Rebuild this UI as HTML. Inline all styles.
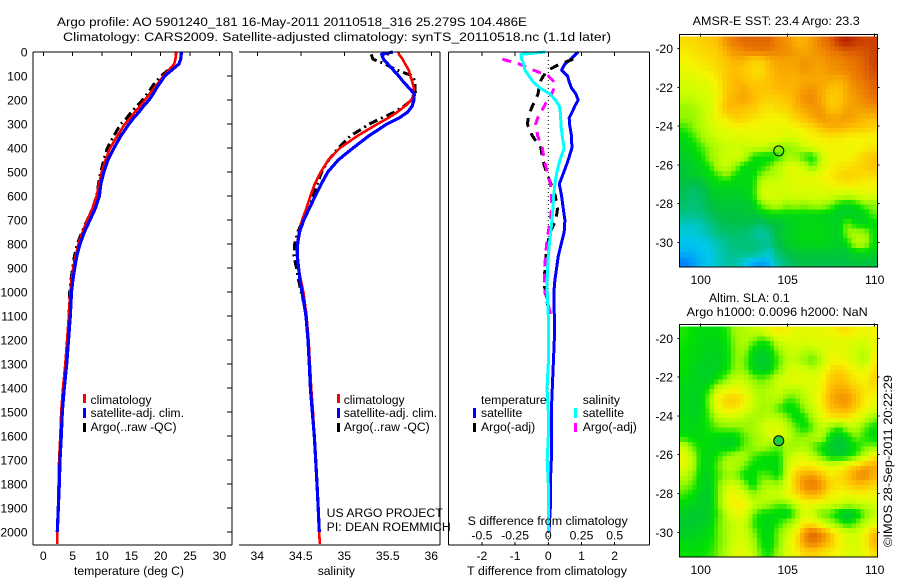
<!DOCTYPE html>
<html lang="en">
<head>
<meta charset="utf-8">
<title>Argo profile</title>
<style>
html,body{margin:0;padding:0;background:#fff;}
svg{display:block;}
text{font-family:"Liberation Sans",sans-serif;font-size:12.2px;fill:#000;}
</style>
</head>
<body>
<svg id="chart" xmlns="http://www.w3.org/2000/svg" width="900" height="580" viewBox="0 0 900 580">
<rect x="0" y="0" width="900" height="580" fill="#fff"/>
<g id="mapLayer"></g>
<g id="plotLayer"></g>
<g id="axisLayer"></g>

<text x="57" y="26" textLength="470" lengthAdjust="spacingAndGlyphs">Argo profile: AO 5901240_181 16-May-2011 20110518_316 25.279S 104.486E</text>
<text x="63" y="41" textLength="548" lengthAdjust="spacingAndGlyphs">Climatology: CARS2009. Satellite-adjusted climatology: synTS_20110518.nc (1.1d later)</text>

<g>
<rect x="83" y="394" width="3" height="9" fill="#f00"/>
<rect x="83" y="408" width="3" height="10" fill="#00f"/>
<rect x="83" y="423" width="3" height="9" fill="#000"/>
<text x="90.5" y="404">climatology</text>
<text x="90.5" y="417">satellite-adj. clim.</text>
<text x="90.5" y="431">Argo(..raw -QC)</text>
</g>
<g>
<rect x="337" y="394" width="3" height="9" fill="#f00"/>
<rect x="337" y="408" width="3" height="10" fill="#00f"/>
<rect x="337" y="423" width="3" height="9" fill="#000"/>
<text x="343.7" y="404">climatology</text>
<text x="343.7" y="417">satellite-adj. clim.</text>
<text x="343.7" y="431">Argo(..raw -QC)</text>
</g>
<g>
<text x="481" y="404">temperature</text>
<rect x="473" y="408" width="3" height="10" fill="#00f"/>
<rect x="473" y="423" width="3" height="9" fill="#000"/>
<text x="481" y="417">satellite</text>
<text x="481" y="431">Argo(-adj)</text>
<text x="582.7" y="404">salinity</text>
<rect x="574" y="408" width="3" height="10" fill="#0ff"/>
<rect x="574" y="423" width="3" height="9" fill="#f0f"/>
<text x="582.7" y="417">satellite</text>
<text x="582.7" y="431">Argo(-adj)</text>
</g>

<text x="326.7" y="517" textLength="116" lengthAdjust="spacingAndGlyphs">US ARGO PROJECT</text>
<text x="326.7" y="531" textLength="124" lengthAdjust="spacingAndGlyphs">PI: DEAN ROEMMICH</text>

<text x="74" y="575" textLength="110" lengthAdjust="spacingAndGlyphs">temperature (deg C)</text>
<text x="317.7" y="575">salinity</text>
<text x="467" y="575" textLength="160" lengthAdjust="spacingAndGlyphs">T difference from climatology</text>
<text x="467.7" y="525" textLength="160" lengthAdjust="spacingAndGlyphs">S difference from climatology</text>

<text x="692.7" y="25" textLength="167" lengthAdjust="spacingAndGlyphs">AMSR-E SST: 23.4 Argo: 23.3</text>
<text x="709" y="302">Altim. SLA: 0.1</text>
<text x="686.7" y="316" textLength="181" lengthAdjust="spacingAndGlyphs">Argo h1000: 0.0096 h2000: NaN</text>
<text transform="translate(892,547) rotate(-90)" textLength="172" lengthAdjust="spacingAndGlyphs">©IMOS 28-Sep-2011 20:22:29</text>
</svg>

<script>
// ---------- Profile data (depth in m) ----------
const depths = [0,10,30,50,75,100,125,150,175,200,225,250,275,300,350,400,450,500,550,600,650,700,750,800,850,900,950,1000,1100,1200,1300,1400,1500,1600,1700,1800,1900,2000,2050];

const tempClim = [22.6,22.6,22.5,22.3,21.4,20.45,19.7,18.9,18.1,17.3,16.5,15.6,14.8,13.9,12.6,11.4,10.6,9.95,9.5,9.1,8.4,7.5,6.7,6,5.5,5.1,4.8,4.6,4.35,4.05,3.75,3.35,3.05,2.9,2.7,2.6,2.5,2.38,2.35];
const tempSat = [23.5,23.5,23.4,23.1,21.9,20.7,20,19.3,18.7,18,17.1,16.3,15.4,14.6,13.2,12.05,11,10.3,9.8,9.55,8.9,7.95,7,6.25,5.7,5.35,5.05,4.8,4.6,4.3,3.98,3.58,3.24,3.07,2.85,2.73,2.56,2.39,null];
const tempArgo = [null,null,null,null,21.3,20.05,19.1,18.4,17.7,16.9,16,15,14.2,13.2,12,10.9,10.3,9.8,9.4,9.1,8.4,7.5,6.6,5.8,5.3,5,4.7,4.5,4.4,null,null,null,null,null,null,null,null,null,null];

const salClim = [35.62,35.63,35.67,35.7,35.74,35.76,35.78,35.8,35.8,35.77,35.7,35.61,35.505,35.38,35.15,34.95,34.816,34.73,34.66,34.61,34.565,34.515,34.48,34.458,34.455,34.475,34.5,34.53,34.565,34.59,34.605,34.62,34.64,34.655,34.675,34.69,34.7,34.71,34.72];
const salSat = [35.56,35.43,35.45,35.5,35.563,35.625,35.68,35.745,35.805,35.8,35.78,35.73,35.63,35.49,35.28,35.1,34.93,34.81,34.735,34.665,34.6,34.535,34.485,34.463,34.46,34.475,34.49,34.515,34.56,34.583,34.598,34.61,34.632,34.655,34.671,34.686,34.7,34.713,null];
const salArgo = [null,35.31,35.33,35.47,35.6,35.79,35.81,35.81,35.82,35.775,35.69,35.58,35.43,35.29,35.07,34.93,34.82,34.74,34.69,34.635,34.58,34.525,34.465,34.43,34.42,34.45,34.475,34.505,34.57,null,null,null,null,null,null,null,null,null,null];

const diffTSat = [0.9,0.82,0.68,0.5,0.4,0.58,0.63,0.7,0.83,0.9,0.8,0.72,0.63,0.64,0.7,0.71,0.6,0.47,0.33,0.4,0.45,0.5,0.48,0.39,0.3,0.25,0.2,0.17,0.18,0.18,0.15,0.12,0.09,0.09,0.09,0.06,0.06,0.02,null];
const diffTArgo = [null,null,0.75,0.35,0,-0.15,-0.25,-0.28,-0.31,-0.38,-0.48,-0.55,-0.6,-0.63,-0.48,-0.22,-0.17,-0.06,0.08,0.21,0.28,0.23,0.06,-0.02,-0.07,-0.1,-0.12,-0.1,0.05,null,null,null,null,null,null,null,null,null,null];
const diffSSat = [-0.025,-0.206,-0.2,-0.186,-0.176,-0.146,-0.113,-0.063,0.013,0.053,0.083,0.09,0.093,0.095,0.105,0.12,0.088,0.065,0.05,0.04,0.035,0.028,0.018,0.008,0,-0.005,-0.008,-0.008,0,0,0,-0.01,0,0,-0.008,0,0,0.003,null];
const diffSArgo = [null,null,-0.346,-0.22,-0.113,0,0.045,0.045,0.025,-0.005,-0.03,-0.055,-0.08,-0.095,-0.08,-0.045,-0.03,-0.008,0.015,0.025,0.025,0.015,0,-0.013,-0.02,-0.028,-0.028,-0.023,0.02,null,null,null,null,null,null,null,null,null,null];

// ---------- Tick labels ----------
const depthTicks = [0,100,200,300,400,500,600,700,800,900,1000,1100,1200,1300,1400,1500,1600,1700,1800,1900,2000];
const tempTicks = [0,5,10,15,20,25,30];
const salTicks = [34,34.5,35,35.5,36];
const diffTTicks = [-2,-1,0,1,2];
const diffSTicks = [-0.5,-0.25,0,0.25,0.5];
const lonTicks = [100,105,110];
const latTicks = [20,22,24,26,28,30];
const floatLon = 104.486;
const floatLat = 25.279;

// ---------- Heatmap levels (colour scale position, 0 blue .. 10 dark red) ----------
const sstGrid = [
[7.5,7.5,7.7,7.8,8,8.7,9,9.2,9.2,9.2,9.2,8.8,8.6,8.2,8.2,8.5,9,9.2,9.8,10,9.7,9.6,9.6],
[7.2,7.3,7.5,7.6,7.8,8.3,8.6,8.8,9,9,8.9,8.8,8.7,8.5,8.3,8.5,8.7,9,9.1,9.3,9.3,9.4,9.6],
[7,7.1,7.3,7.4,7.6,8,8.2,8.1,7.7,7.7,8.2,8.4,8.4,8.4,8.6,8.5,8.5,8.7,8.8,9,9.1,9.3,9.6],
[6.7,6.8,7,7.2,7.4,7.8,8,7.8,7.5,7.4,8,8.3,8.3,8.3,8.6,8.4,8.4,8.6,8.7,8.8,9,9.2,9.5],
[6.3,6.4,6.6,6.8,7.2,7.9,8.1,8,7.7,7.7,8,8.2,8.2,8.2,8.3,8.3,8.3,8.3,8.2,8.5,8.9,9.1,9.3],
[6,6.1,6.2,6.5,7,7.8,8.1,8.3,8,7.9,7.9,8.1,8.1,8.2,8.5,8.6,8.3,8,7.9,8.3,8.7,8.9,9.2],
[5.7,5.7,6,6.2,6.9,8,8.2,8.4,8.1,7.7,7.6,7.7,7.9,8.2,8.7,8.7,8.3,7.7,7.8,8.3,8.5,8.8,9],
[5,5.2,5.7,6.1,7.2,8.1,8,7.9,7.8,7.4,7.3,7.5,7.6,8.1,8.3,8.6,8.5,7.9,8,8.4,8.4,8.5,8.6],
[5,5,5.6,6.2,6.9,7.2,7.7,7.6,7.3,7.2,7,7,7.2,7.6,8,8.3,8.6,8.4,8.4,8.5,8.3,8.1,8],
[4.3,4.8,5.5,6,6.3,6.7,6.9,7,6.9,6.8,6.7,6.7,6.8,7,7.2,7.5,8,8.2,8.2,8,7.9,7.8,7.6],
[3.8,4.2,5,5.7,6,6.3,6.5,6.4,6.6,6.6,6.6,6.7,6.2,6.4,6.8,7,7.1,7.3,7.2,7.1,7,7,7],
[3.6,3.8,4.4,5,5.6,5.9,6,5.8,6,6,5.6,5,4.8,5.3,6,6.5,6.8,6.9,6.9,6.8,6.9,7.1,7.3],
[3.5,3.6,4,5,5.6,6,6.2,5.9,4.2,3.8,3.7,4.2,5.2,5,4.2,3.9,5.8,6.8,7,7,7.2,7.6,7.8],
[3.2,3.4,3.7,4.2,5.5,6,5,3.8,3.7,4,4.6,5.5,6.3,6.5,5.8,4.5,6.2,6.9,7.2,7.3,7.5,7.7,7.9],
[3.2,3.4,3.5,3.8,4.3,4.8,4,3.7,3.8,5,5.5,5.7,6.3,6.6,6.5,6.6,6.9,7.2,7.5,7.7,7.6,7.4,7.4],
[3,2.8,2.9,3.5,3.7,3.7,3.6,3.7,3.8,6,6.2,6,6.2,6.4,6.4,6.5,6.6,6.8,7.1,7.2,7.1,7,7],
[2.8,2.5,2.6,3.2,3.4,3.5,3.4,3.5,3.9,6,6.3,6.1,6.1,6.2,6.2,6.3,6.2,6.3,6,5.8,6.2,6.5,6.4],
[2.6,2.4,2.5,3,3.2,3.3,3.2,3.3,3.4,4.8,5.4,5.6,5,5.3,5,5.3,5.4,4.8,3.9,3.6,3.9,4.8,5],
[2.2,2.2,2.3,2.7,3,3.1,3.1,3.2,3.2,3.4,3.8,3.8,3.8,3.8,3.8,3.8,3.7,3.7,3.4,3.4,3.5,3.6,4.6],
[1.5,1.4,1.6,2.2,2.7,2.9,2.9,3,2.8,2.6,3,3.2,3.4,3.6,3.7,3.7,3.7,3.6,3.5,4.8,3.8,3.7,3.8],
[1.2,1.2,1.4,1.8,2.3,2.5,2.6,2.5,2.1,1.7,2.2,3.2,3.5,3.7,3.8,3.8,3.8,3.7,3.5,5,5.4,5.2,4],
[0.9,0.9,1,1.2,1.7,2.1,2.3,2.5,2.4,2.2,2.1,3,3.4,3.6,3.7,3.7,3.7,3.6,3.4,4,5.6,5.5,3.9],
[0.7,0.7,0.9,1,1.5,2,2.2,2.3,2.2,1.9,1.4,2.6,3.1,3.2,3.3,3.3,3.3,3.3,3.2,3.3,3.6,3.8,3.5],
[0,0.3,0.8,1,1.4,1.9,1.8,1.2,0.6,0.4,0.7,1.9,2.5,2.8,3,3,2.9,3,3,3.1,3.1,3.1,3.1]
];
const slaGrid = [
[4.2,4,3.8,3.8,3.8,4.2,5.2,5.5,5.8,6,6.8,7.2,7,6.6,6.5,6.6,6.7,6.8,7.3,7.4,7,6.8,7],
[4.1,3.9,3.7,3.7,3.7,4,5,5.6,4.8,4,4.4,6,6.3,6.4,6.3,6.4,6.4,6.4,6.5,6.5,6.3,6.2,6.8],
[4,3.8,3.7,3.6,3.6,3.9,4.9,5.2,3.8,3.5,3.7,5,5.8,6,5.6,5.6,6.2,6.6,6.6,6.4,6,5.6,6.8],
[4,3.8,3.6,3.5,3.5,3.8,5,4.8,3.6,3.3,3.5,4.4,5.6,5.7,5,4.4,5.6,6.8,6.9,6.7,6,5.4,7],
[4,3.7,3.5,3.5,3.6,4,5,5,3.8,3.4,3.6,4.8,6,6.4,6.2,5.8,6.4,7.4,7.6,7.3,6.8,6.6,7.4],
[3.8,3.7,3.5,3.5,4,5,5.8,5.8,5,4.6,5,6,6.4,6.6,6.5,6.4,6.9,7.7,8,7.7,7.2,7,7.6],
[3.7,3.6,3.5,4.2,6,6.6,6.9,6.5,5.6,5.2,5.6,6,5.8,5.6,6,6.4,7,8,8.3,8.2,7.7,7.2,7.3],
[3.7,3.6,3.6,5,7,7.7,7.7,7.3,6,5.4,5.6,5.6,4.5,4.6,5.6,6.4,7.2,8.2,8.6,8.6,8,7.2,6.8],
[3.7,3.5,3.6,4.8,6.8,7.4,7.3,6.7,5.8,5.3,5.3,4.4,3.8,3.9,5,6,7,7.9,8.2,8.3,7.7,7,6.5],
[3.8,3.6,3.7,4.4,5.6,6,6,5.6,5.3,5.4,5.8,5.6,4.8,3.8,4,5.4,6.6,7.2,7.3,7.2,6.8,6,5],
[3.8,3.7,3.8,4.2,4.6,4.8,4.8,5,5.3,5.9,6.4,6.5,5.7,4.6,3.9,4.6,5.8,5,4.2,5.4,5.6,4.6,3.9],
[4,3.8,3.8,3.9,3.8,3.6,3.7,4.5,5,5.6,6.2,6.4,5.8,5,5,5.4,5.6,3.8,3.3,3.8,4.8,4.2,3.8],
[6,4.6,3.9,3.8,3.7,3.5,3.7,4.6,5,5.4,5,4.6,5.2,5.2,5.4,4.6,3.9,3.5,3.1,3.4,3.9,4.6,4.8],
[6.8,5.5,3.9,3.7,4.2,5,5.4,5.3,4.6,4,4,4,5.5,6.2,6.4,5.6,4.5,3.6,3.5,3.7,4.5,5.8,7.2],
[6.6,5.6,3.8,3.7,4.6,5.6,5.5,4.8,3.9,3.9,3.8,3.8,5.8,7,7.2,7.1,6.8,6.3,6.6,7.2,7.8,8.3,8.2],
[5.8,5,3.7,3.6,4.4,5,4.9,3.9,3.8,4.6,4.4,3.8,6.2,7.8,8.4,8.5,8,7.3,7.4,7.9,8.6,8.8,8.2],
[5,4.6,3.6,3.5,4.6,6,6.2,5,3.8,5,5.4,5.2,6.6,7.8,8.8,9,8.6,7.6,7.3,7.6,8,8,7.6],
[4.4,4,3.4,3.4,4.6,6.6,6.9,6.2,5,5.6,6,6,6.8,7.4,8,8.3,8,7.2,6.9,6.9,7,7,6.9],
[3.8,3.7,3.5,3.5,4.6,6.6,7.2,7.2,6,5.5,5.2,4.6,4.8,5.8,6.8,6.8,6.6,6.2,6,5.4,5.6,6,6.2],
[3.5,3.3,3.3,3.5,4.3,5.8,6.8,6.6,4.8,3.9,3.8,3.8,3.5,4.6,6.3,5.8,4.4,4.4,3.4,3,3.4,4.6,5.6],
[3.3,3.3,3.4,3.6,4.6,5.4,6,6,4.4,3.8,3.7,4.2,5,5.8,7.2,7.2,6.4,5.4,4.6,3.8,4.6,5.6,6.4],
[3.5,3.5,3.6,3.8,4.6,5.4,6,6,5,3.9,3.7,4.8,5.8,7,8.6,9.3,8.8,8,6.8,6.2,6,7,8],
[3.8,3.7,3.8,4,4.6,5.4,6.2,6.3,5.5,4,3.7,4.8,6.3,7.2,8.6,9,8.6,8,7,6.4,6.2,7,8.2],
[4,3.9,4,4.2,4.7,5.6,6.4,6.5,5.8,4.4,4,5.2,6.4,6.9,7.6,7.7,7.4,7.2,6.9,6.4,6.2,6.8,7.4]
];

// ---------- Axis functions ----------
const NS = 'http://www.w3.org/2000/svg';
const plotTop = 52, plotBottom = 545;
const yDepth = d => plotTop + 0.24 * d;
const xTemp = t => 43.3 + 5.87 * t;
const xSal = s => 257.3 + 87 * (s - 34);
const xDiffT = t => 548.3 + 33.2 * t;
const xDiffS = s => 548.3 + 132.8 * s;
const lonX = lon => 700.7 + 17.4 * (lon - 100);
const latYTop = lat => 48.7 + 19.36 * (lat - 20);
const latYBottom = lat => 338.3 + 19.4 * (lat - 20);

function make(tag, attrs, parent) {
  const el = document.createElementNS(NS, tag);
  for (const k in attrs) el.setAttribute(k, attrs[k]);
  parent.appendChild(el);
  return el;
}
function line(parent, x1, y1, x2, y2, name) {
  const el = make('line', {x1: x1, y1: y1, x2: x2, y2: y2, stroke: '#000', 'stroke-width': 1, 'shape-rendering': 'crispEdges'}, parent);
  
  
  return el;
}
function label(parent, x, y, str, anchor, name) {
  const el = make('text', {x: x, y: y, 'text-anchor': anchor}, parent);
  el.textContent = str;
  
  
  return el;
}
function series(parent, xFn, vals, color, width, dash, name) {
  let d = '';
  vals.forEach((v, i) => {
    if (v === null) return;
    d += (d ? 'L' : 'M') + xFn(v).toFixed(1) + ' ' + yDepth(depths[i]).toFixed(1);
  });
  const attrs = {d: d, fill: 'none', stroke: color, 'stroke-width': width, 'stroke-linejoin': 'round', 'shape-rendering': 'crispEdges'};
  if (dash) attrs['stroke-dasharray'] = dash;
  const el = make('path', attrs, parent);
  
  
  return el;
}

// ---------- Colour scale ----------
const colorStops = [[0,130,255],[0,200,235],[0,195,150],[0,192,70],[0,225,0],[150,248,0],[205,255,0],[245,245,0],[255,190,0],[235,120,0],[185,30,0]];
function levelColor(v) {
  const i = Math.max(0, Math.min(9, Math.floor(v)));
  const f = Math.max(0, Math.min(1, v - i));
  const a = colorStops[i], b = colorStops[i + 1];
  return 'rgb(' + a.map((c, k) => Math.round(c + (b[k] - c) * f)).join(',') + ')';
}
// Level at a fractional grid position, so each displayed cell blends its neighbours
function sampleLevel(grid, u, v) {
  const rows = grid.length, cols = grid[0].length;
  const ru = Math.max(0, Math.min(rows - 1, v)), cu = Math.max(0, Math.min(cols - 1, u));
  const r0 = Math.floor(ru), c0 = Math.floor(cu);
  const r1 = Math.min(rows - 1, r0 + 1), c1 = Math.min(cols - 1, c0 + 1);
  const fr = ru - r0, fc = cu - c0;
  const top = grid[r0][c0] * (1 - fc) + grid[r0][c1] * fc;
  const bot = grid[r1][c0] * (1 - fc) + grid[r1][c1] * fc;
  return top * (1 - fr) + bot * fr;
}

// ---------- Profile panels ----------
const plotLayer = document.getElementById('plotLayer');
const axisLayer = document.getElementById('axisLayer');

series(plotLayer, xTemp, tempArgo, '#000', 3, '9 4 2 4', 'temperature-argo-line');
series(plotLayer, xTemp, tempClim, '#f00', 2.6, null, 'temperature-climatology-line');
series(plotLayer, xTemp, tempSat, '#00f', 3.2, null, 'temperature-satellite-line');

series(plotLayer, xSal, salArgo, '#000', 3, '9 4 2 4', 'salinity-argo-line');
series(plotLayer, xSal, salClim, '#f00', 2.6, null, 'salinity-climatology-line');
series(plotLayer, xSal, salSat, '#00f', 3.2, null, 'salinity-satellite-line');

const zeroLine = make('line', {x1: xDiffT(0), y1: plotTop, x2: xDiffT(0), y2: plotBottom, stroke: '#000', 'stroke-width': 1, 'stroke-dasharray': '1 3'}, plotLayer);


series(plotLayer, xDiffT, diffTSat, '#00f', 3, null, 't-difference-satellite-line');
series(plotLayer, xDiffT, diffTArgo, '#000', 3, '9 7', 't-difference-argo-line');
series(plotLayer, xDiffS, diffSArgo, '#f0f', 3, '9 7', 's-difference-argo-line');
series(plotLayer, xDiffS, diffSSat, '#0ff', 3, null, 's-difference-satellite-line');

// Panel frames
const frames = [[33, 232, true], [239, 440, false], [448.5, 649.5, true]];
frames.forEach(f => {
  line(axisLayer, f[0], plotTop, f[1], plotTop, 'plot-top-spine');
  line(axisLayer, f[0], plotBottom, f[1], plotBottom, 'plot-bottom-spine');
  line(axisLayer, f[1], plotTop, f[1], plotBottom, 'plot-right-spine');
  if (f[2]) line(axisLayer, f[0], plotTop, f[0], plotBottom, 'plot-left-spine');
});

depthTicks.forEach(d => {
  label(axisLayer, 27.5, yDepth(d) + 4.5, String(d), 'end', 'depth-tick-label');
  line(axisLayer, 227, yDepth(d), 232, yDepth(d), 'depth-tick');
});
tempTicks.forEach(t => {
  label(axisLayer, xTemp(t), 560, String(t), 'middle', 'temperature-tick-label');
  line(axisLayer, xTemp(t), plotTop, xTemp(t), plotTop + 4, 'temperature-tick');
});
salTicks.forEach(s => {
  label(axisLayer, xSal(s), 560, String(s), 'middle', 'salinity-tick-label');
  line(axisLayer, xSal(s), plotTop, xSal(s), plotTop + 4, 'salinity-tick');
});
diffTTicks.forEach(t => {
  label(axisLayer, xDiffT(t), 560, String(t), 'middle', 't-difference-tick-label');
  line(axisLayer, xDiffT(t), plotTop, xDiffT(t), plotTop + 4, 't-difference-tick');
});
diffSTicks.forEach(s => {
  label(axisLayer, xDiffS(s), 539.5, String(s), 'middle', 's-difference-tick-label');
  line(axisLayer, xDiffS(s), plotBottom - 3, xDiffS(s), plotBottom, 's-difference-tick');
});

// ---------- Maps ----------
const mapLayer = document.getElementById('mapLayer');
function drawMap(grid, box, latY, name) {
  const g = make('g', {}, mapLayer);
  
  
  const sub = 2;
  const nCols = grid[0].length * sub, nRows = grid.length * sub;
  const cw = (box.right - box.left) / nCols;
  const ch = (box.bottom - box.imageTop) / nRows;
  for (let r = 0; r < nRows; r++) {
    for (let c = 0; c < nCols; c++) {
      const level = sampleLevel(grid, (c + 0.5) / sub - 0.5, (r + 0.5) / sub - 0.5);
      const cell = make('rect', {
        x: (box.left + c * cw).toFixed(2),
        y: (box.imageTop + r * ch).toFixed(2),
        width: (cw + 0.5).toFixed(2),
        height: (ch + 0.5).toFixed(2),
        fill: levelColor(level),
        'shape-rendering': 'crispEdges'
      }, g);
      
      
    }
  }
  const frame = make('rect', {x: box.left, y: box.top, width: box.right - box.left, height: box.bottom - box.top, fill: 'none', stroke: '#000', 'stroke-width': 1, 'shape-rendering': 'crispEdges'}, g);
  
  
  lonTicks.forEach(lon => {
    label(g, lonX(lon), box.lonLabelY, String(lon), 'middle', 'longitude-tick-label');
    line(g, lonX(lon), box.top - 1, lonX(lon), box.top + 2, 'longitude-tick');
  });
  latTicks.forEach(lat => {
    label(g, 673, latY(lat) + 4.5, '-' + lat, 'end', 'latitude-tick-label');
    line(g, box.left - 2, latY(lat), box.left, latY(lat), 'latitude-tick');
    line(g, box.right, latY(lat), box.right + 2, latY(lat), 'latitude-tick');
  });
  const marker = make('circle', {cx: lonX(floatLon), cy: latY(floatLat), r: 5, fill: box.markerFill, stroke: '#000', 'stroke-width': 1}, g);
  
  
}
drawMap(sstGrid, {left: 679.5, right: 877.5, top: 34.5, imageTop: 36.7, bottom: 267, lonLabelY: 284, markerFill: 'none'}, latYTop, 'sst-map');
drawMap(slaGrid, {left: 679.5, right: 877.5, top: 324.5, imageTop: 326.7, bottom: 557, lonLabelY: 574, markerFill: 'rgb(30,205,60)'}, latYBottom, 'sla-map');
</script>
</body>
</html>
